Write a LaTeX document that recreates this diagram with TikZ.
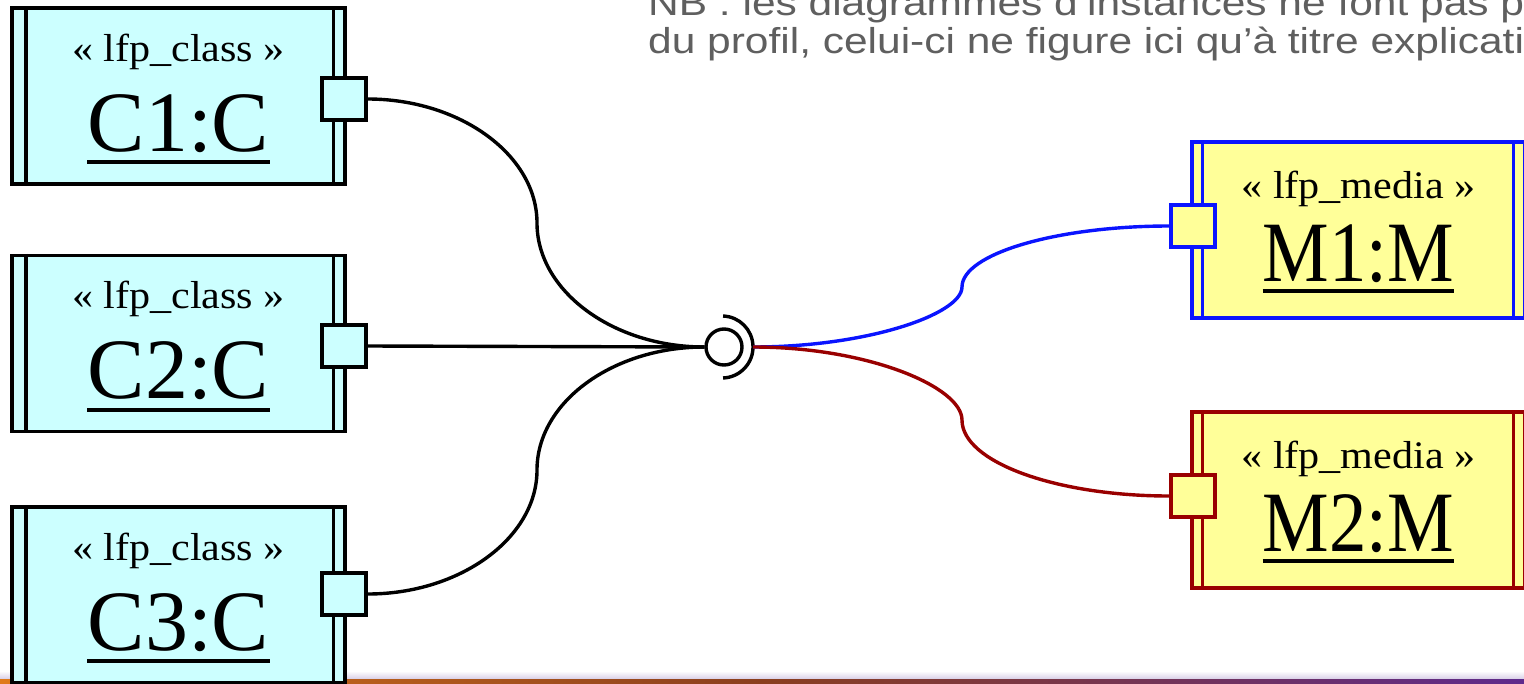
\documentclass[tikz,border=0pt]{standalone}
\usepackage{fontspec}
\usepackage{graphicx}
\setmainfont{Liberation Serif}
\newfontfamily\notefont[FakeStretch=1.18]{Liberation Sans}
\newfontfamily\stereofont[FakeStretch=1.08]{Liberation Serif}
\definecolor{cfill}{HTML}{CCFFFF}
\definecolor{mfill}{HTML}{FFFF99}
\definecolor{mblue}{HTML}{0A14FF}
\definecolor{mred}{HTML}{990000}
\definecolor{notegray}{HTML}{5F5F5F}
\definecolor{barorange}{HTML}{E07A1A}
\definecolor{barbrown}{HTML}{8A3E1E}
\definecolor{barpurple}{HTML}{5E2A8C}
\definecolor{barfade}{HTML}{D6CCE6}
\tikzset{
  obox/.style={draw, line width=3.4pt, minimum width=333pt, minimum height=176pt, inner sep=0pt},
  cbox/.style={obox, fill=cfill},
  mbox/.style={obox, fill=mfill},
  inl/.style={line width=3.4pt},
  portbox/.style={draw, line width=3.4pt, minimum width=44pt, minimum height=42pt, inner sep=0pt},
  stereo/.style={inner sep=0pt, anchor=base, font=\stereofont\fontsize{39}{42}\selectfont},
  iname/.style={inner sep=0pt, anchor=base, font=\fontsize{86}{90}\selectfont},
  notetext/.style={anchor=base west, inner sep=0pt, text=notegray, font=\notefont\fontsize{36}{38}\selectfont},
  ul/.style={line width=3.8pt},
  conn/.style={line width=3.4pt},
}
\begin{document}
\begin{tikzpicture}[x=1pt,y=-1pt]
\clip (0,0) rectangle (1524,683);
\fill[white] (0,0) rectangle (1524,683);
% bottom bar
\shade[top color=white, bottom color=barfade] (0,671) rectangle (1524,679.5);
\shade[left color=barorange, right color=barbrown] (0,679) rectangle (762,683);
\shade[left color=barbrown, right color=barpurple] (762,679) rectangle (1524,683);

% note text (cut by the picture's edges, as in the original)
\node[notetext] (note1) at (648,15) {NB : les diagrammes d’instances ne font pas p};
\node[notetext] (note2) at (648,53) {du profil, celui-ci ne figure ici qu’à titre explicati};

% class boxes
\foreach \n/\cy/\py in {1/96/99, 2/343.5/346, 3/595/594}{
  \node[cbox] (C\n) at (178.5,\cy) {};
  \draw[inl] ([xshift=15.5pt]C\n.north west) -- ([xshift=15.5pt]C\n.south west);
  \draw[inl] ([xshift=-13pt]C\n.north east) -- ([xshift=-13pt]C\n.south east);
  \node[stereo] (S\n) at ([yshift=-55pt]C\n.north) {« lfp\_class »};
  \node[iname] (N\n) at ([yshift=-145pt]C\n.north) {C\n:C};
  \draw[ul] ([yshift=-11pt]N\n.base west) -- ([yshift=-11pt]N\n.base east);
  \node[portbox, fill=cfill] (P\n) at (344,\py) {};
}

% media boxes
\node[mbox, draw=mblue] (M1) at (1358.5,230) {};
\draw[inl, mblue] ([xshift=12pt]M1.north west) -- ([xshift=12pt]M1.south west);
\draw[inl, mblue] ([xshift=-13pt]M1.north east) -- ([xshift=-13pt]M1.south east);
\node[stereo] (SM1) at ([yshift=-58pt]M1.north) {« lfp\_media »};
\node[iname] (NM1) at ([yshift=-141pt]M1.north) {\scalebox{0.87}[1]{M1:M}};
\draw[ul] ([yshift=-10pt]NM1.base west) -- ([yshift=-10pt]NM1.base east);
\node[portbox, fill=mfill, draw=mblue] (Q1) at (1193,226) {};

\node[mbox, draw=mred] (M2) at (1358.5,500) {};
\draw[inl, mred] ([xshift=12pt]M2.north west) -- ([xshift=12pt]M2.south west);
\draw[inl, mred] ([xshift=-13pt]M2.north east) -- ([xshift=-13pt]M2.south east);
\node[stereo] (SM2) at ([yshift=-58pt]M2.north) {« lfp\_media »};
\node[iname] (NM2) at ([yshift=-141pt]M2.north) {\scalebox{0.87}[1]{M2:M}};
\draw[ul] ([yshift=-10pt]NM2.base west) -- ([yshift=-10pt]NM2.base east);
\node[portbox, fill=mfill, draw=mred] (Q2) at (1193,496) {};

% ball and socket
\node[circle, draw, line width=3.4pt, minimum size=36pt, inner sep=0pt] (ball) at (724,347) {};
\draw[line width=3.4pt] ([xshift=-2pt]ball.center) ++(88:31) arc[start angle=88, end angle=-88, radius=31];
\coordinate (sock) at (753,347);

% connectors
\draw[conn] (P1.east) .. controls (460,99) and (537,155) .. (537,223) .. controls (537,291) and (613,347) .. (ball.west);
\draw[conn] (P2.east) -- (ball.west);
\draw[conn] (P3.east) .. controls (460,594) and (537,538) .. (537,470) .. controls (537,402) and (613,347) .. (ball.west);
\draw[conn, mblue] (sock) .. controls (868,347) and (962,314) .. (962,287) .. controls (962,254) and (1056,226) .. (Q1.west);
\draw[conn, mred] (sock) .. controls (868,347) and (962,387) .. (962,420) .. controls (962,462) and (1056,496) .. (Q2.west);
\end{tikzpicture}
\end{document}
